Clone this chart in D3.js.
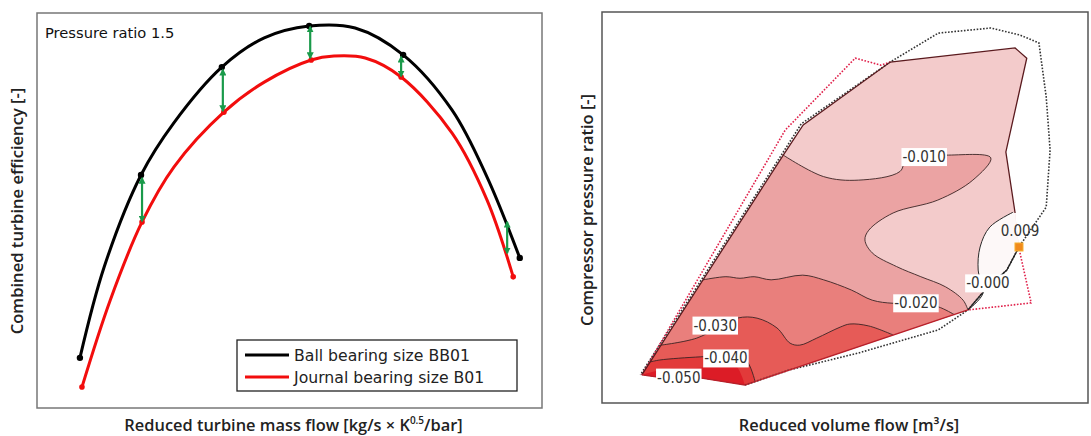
<!DOCTYPE html>
<html><head><meta charset="utf-8">
<script src="https://cdn.jsdelivr.net/npm/d3@7"></script>
<style>
html,body{margin:0;padding:0;background:#fff;}
svg{display:block;}
</style></head>
<body>
<svg id="chart" width="1091" height="436"></svg>
<script>
// ---------------- LEFT PANEL DATA ----------------
const ballFlow = [8.5, 13.3, 20.6, 27.1, 36.6, 45.0, 53.9, 63.0, 72.5, 82.2, 89.1, 95.6];
const ballEff  = [12.7, 35.7, 59.0, 72.2, 86.3, 93.7, 96.7, 96.2, 89.4, 75.4, 58.5, 38.0];
const journalFlow = [8.9, 14.5, 20.8, 27.1, 37.0, 45.0, 54.3, 58.8, 65.0, 72.1, 82.2, 89.1, 94.3];
const journalEff  = [5.3, 27.3, 47.1, 61.0, 74.9, 82.5, 88.1, 89.1, 88.6, 83.8, 69.6, 52.7, 33.2];
const ballMarkFlow = [8.5, 20.6, 36.6, 53.9, 72.5, 95.6];
const ballMarkEff  = [12.7, 59.0, 86.3, 96.7, 89.4, 38.0];
const journalMarkFlow = [8.9, 20.8, 37.0, 54.3, 72.1, 94.3];
const journalMarkEff  = [5.3, 47.1, 74.9, 88.1, 83.8, 33.2];
const arrowFlow = [20.8, 36.8, 54.1, 72.1, 93.1];
const arrowTop = [58.7, 86.1, 97.0, 89.4, 47.6];
const arrowBottom = [46.8, 74.7, 88.1, 83.5, 38.7];
const legendLabels = ["Ball bearing size BB01", "Journal bearing size B01"];

// ---------------- RIGHT PANEL DATA ----------------
const mapBoundary = [[8.2,7.2],[37.3,63.4],[41.4,71.1],[59.3,87.2],[85.0,90.8],[87.4,88.2],[83.1,64.2],[85.0,48.6],[85.8,39.9],[83.3,34.0],[78.8,28.9],[75.3,23.8],[29.4,4.6],[20.2,6.4],[11.5,6.6]];
const bottomEdge = [[29.4,4.6],[20.2,6.4],[11.5,6.6],[8.2,7.2]];
const positiveZero = [[84.6,48.8],[79.8,45.0],[77.8,39.9],[77.4,34.0],[78.4,28.1],[75.3,23.8]];
const positiveEdge = [[78.8,28.9],[83.3,34.0],[85.8,39.9],[85.0,48.6]];
const contour010 = [[37.3,63.4],[45.6,57.9],[52.8,57.0],[61.3,59.2],[62.8,63.0],[70.7,63.4],[80.0,62.7],[76.3,57.0],[69.1,51.9],[59.9,48.6],[54.9,44.2],[54.1,41.7],[55.6,38.4],[60.6,34.9],[65.6,32.3],[70.7,29.7],[74.3,26.3],[75.3,23.8]];
const contour020 = [[20.8,31.5],[25.5,32.3],[28.4,31.9],[31.3,32.3],[34.8,31.5],[41.3,32.7],[45.6,31.5],[51.3,28.9],[55.6,26.3],[59.9,25.5],[64.6,25.6],[69.2,24.6],[72.5,22.6]];
const contour030 = [[12.1,14.8],[19.5,16.6],[27.8,21.7],[31.9,21.7],[36.0,19.2],[38.7,15.3],[40.7,14.8],[44.2,16.6],[49.0,19.4],[51.0,20.2],[54.9,19.7],[59.9,17.4]];
const contour040 = [[9.9,10.5],[11.9,11.0],[20.2,11.8],[25.9,12.0],[29.5,11.2],[31.5,5.5]];
const contour050 = [[8.2,7.2],[13.0,8.6],[20.2,9.0],[27.0,10.2],[29.4,4.6]];
const journalEnvelope = [[8.2,7.2],[37.7,69.8],[52.1,88.2],[57.4,86.4],[59.3,87.2]];
const journalEnvelopeRight = [[86.0,38.4],[88.3,25.6],[75.3,23.8]];
const ballEnvelope = [[29.4,4.6],[38.4,8.4],[52.8,12.8],[69.2,18.7],[75.3,23.8],[78.8,28.9],[83.3,34.0],[85.8,39.9],[86.4,41.0],[91.4,50.1],[92.2,64.7],[91.4,78.3],[89.9,92.1],[86.0,94.1],[80.0,95.9],[69.2,94.6],[59.3,87.2],[41.0,71.4],[36.9,63.4],[7.9,7.2]];
const levelLabels = ["-0.010","-0.020","-0.030","-0.040","-0.050","-0.000","0.009"];
const labelPos = [[66.3,63.0],[64.6,25.6],[23.3,19.9],[25.5,11.5],[15.8,6.6],[79.4,30.7],[86.0,44.0]];
const optimum = [85.8, 39.9];
const levelColors = ["#f3cbcb","#eba3a3","#e97f7c","#e65b57","#e23a3a","#dc1c26"];

const svg = d3.select("#chart");
const titleFont = "'Open Sans', 'DejaVu Sans', sans-serif";
const bodyFont = "'DejaVu Sans', sans-serif";

// ================= LEFT PANEL =================
const L = {x0:37, x1:542, y0:13, y1:408};
const xL = d3.scaleLinear().domain([0,100]).range([L.x0, L.x1]);
const yL = d3.scaleLinear().domain([0,100]).range([L.y1, L.y0]);
const gL = svg.append("g");
gL.append("rect").attr("x",L.x0).attr("y",L.y0).attr("width",L.x1-L.x0).attr("height",L.y1-L.y0)
  .attr("fill","#fff").attr("stroke","#777").attr("stroke-width",1.5);

const lineGen = d3.line().x(d=>xL(d[0])).y(d=>yL(d[1])).curve(d3.curveCatmullRom.alpha(0.5));
const ballPts = ballFlow.map((v,i)=>[v, ballEff[i]]);
const journalPts = journalFlow.map((v,i)=>[v, journalEff[i]]);
gL.append("path").attr("d", lineGen(journalPts)).attr("fill","none").attr("stroke","#f20d0d").attr("stroke-width",3);
gL.append("path").attr("d", lineGen(ballPts)).attr("fill","none").attr("stroke","#000").attr("stroke-width",3);
gL.selectAll(".bdot").data(ballMarkFlow).join("circle").attr("cx",d=>xL(d)).attr("cy",(d,i)=>yL(ballMarkEff[i])).attr("r",3.2).attr("fill","#000");
gL.selectAll(".jdot").data(journalMarkFlow).join("circle").attr("cx",d=>xL(d)).attr("cy",(d,i)=>yL(journalMarkEff[i])).attr("r",2.8).attr("fill","#f20d0d");

const defs = svg.append("defs");
defs.append("marker").attr("id","ah").attr("viewBox","0 0 10 10").attr("refX",8).attr("refY",5)
  .attr("markerWidth",3.2).attr("markerHeight",3.2).attr("orient","auto-start-reverse")
  .append("path").attr("d","M0,0 L10,5 L0,10 z").attr("fill","#1a9a4a");
gL.selectAll(".arr").data(arrowFlow).join("line")
  .attr("x1",d=>xL(d)).attr("x2",d=>xL(d))
  .attr("y1",(d,i)=>yL(arrowTop[i])+2).attr("y2",(d,i)=>yL(arrowBottom[i])-2)
  .attr("stroke","#1a9a4a").attr("stroke-width",2.2)
  .attr("marker-start","url(#ah)").attr("marker-end","url(#ah)");

gL.append("text").attr("x",45).attr("y",38).text("Pressure ratio 1.5")
  .attr("font-family",bodyFont).attr("font-size",14.7).attr("fill","#111");

// legend
const lg = gL.append("g");
lg.append("rect").attr("x",237).attr("y",340).attr("width",280).attr("height",51)
  .attr("fill","#fff").attr("stroke","#222").attr("stroke-width",1.3);
const legColors = ["#000","#f20d0d"];
legendLabels.forEach((t,i)=>{
  const yy = 355 + i*22;
  lg.append("line").attr("x1",245).attr("x2",289).attr("y1",yy).attr("y2",yy).attr("stroke",legColors[i]).attr("stroke-width",3);
  lg.append("text").attr("x",294).attr("y",yy).attr("dy","0.36em").text(t)
    .attr("font-family",bodyFont).attr("font-size",15.7).attr("fill","#222");
});

// axis titles
const xt = svg.append("text").attr("x",(L.x0+L.x1)/2 + 4).attr("y",431).attr("text-anchor","middle")
  .attr("font-family",titleFont).attr("font-size",16.4).attr("font-weight",600).attr("fill","#222");
xt.append("tspan").text("Reduced turbine mass flow [kg/s × K");
xt.append("tspan").text("0.5").attr("font-size",10).attr("dy",-7);
xt.append("tspan").text("/bar]").attr("dy",7);
svg.append("text").attr("transform","translate(19,211) rotate(-90)").attr("text-anchor","middle")
  .attr("dominant-baseline","middle").text("Combined turbine efficiency [-]")
  .attr("font-family",titleFont).attr("font-size",16.6).attr("font-weight",600).attr("fill","#222");

// ================= RIGHT PANEL =================
const R = {x0:602, x1:1088, y0:12, y1:403};
const xR = d3.scaleLinear().domain([0,100]).range([R.x0, R.x1]);
const yR = d3.scaleLinear().domain([0,100]).range([R.y1, R.y0]);
const gR = svg.append("g");
gR.append("rect").attr("x",R.x0).attr("y",R.y0).attr("width",R.x1-R.x0).attr("height",R.y1-R.y0)
  .attr("fill","#fff").attr("stroke","#555").attr("stroke-width",1.5);

const lin = d3.line().x(d=>xR(d[0])).y(d=>yR(d[1]));
const smooth = d3.line().x(d=>xR(d[0])).y(d=>yR(d[1])).curve(d3.curveCatmullRom.alpha(0.5));
function region(contour, edge){
  let s = smooth(contour);
  edge.forEach(p=>{ s += "L" + xR(p[0]) + "," + yR(p[1]); });
  return s + "Z";
}
gR.append("path").attr("d", lin(mapBoundary)+"Z").attr("fill",levelColors[0]);
gR.append("path").attr("d", region(positiveZero, positiveEdge)).attr("fill","#fdf8f8");
const fills = [[contour010,1],[contour020,2],[contour030,3],[contour040,4],[contour050,5]];
fills.forEach(([c,k])=>{
  gR.append("path").attr("d", region(c, bottomEdge)).attr("fill", levelColors[k]);
});
[contour010, contour020, contour030, contour040].forEach(c=>{
  gR.append("path").attr("d", smooth(c)).attr("fill","none").attr("stroke","#3a2424").attr("stroke-width",0.9);
});
gR.append("path").attr("d", smooth(positiveZero)).attr("fill","none").attr("stroke","#2a2a2a").attr("stroke-width",1);
gR.append("path").attr("d", lin(ballEnvelope)).attr("fill","none").attr("stroke","#333").attr("stroke-width",1.6).attr("stroke-dasharray","1.6,1.6");
gR.append("path").attr("d", lin(journalEnvelope)).attr("fill","none").attr("stroke","#e0204a").attr("stroke-width",1.6).attr("stroke-dasharray","1.6,1.6");
gR.append("path").attr("d", lin(journalEnvelopeRight)).attr("fill","none").attr("stroke","#e0204a").attr("stroke-width",1.6).attr("stroke-dasharray","1.6,1.6");
gR.append("path").attr("d", lin(mapBoundary.slice(0,8))).attr("fill","none").attr("stroke","#5a1a1e").attr("stroke-width",1.3);
gR.append("path").attr("d", lin(mapBoundary.slice(8,12))).attr("fill","none").attr("stroke","#222").attr("stroke-width",1.3);
gR.append("path").attr("d", lin(mapBoundary.slice(11).concat([mapBoundary[0]]))).attr("fill","none").attr("stroke","#b8202a").attr("stroke-width",1.3);

gR.append("rect").attr("x",xR(optimum[0])-4).attr("y",yR(optimum[1])-4).attr("width",8).attr("height",8)
  .attr("fill","#f08a1c").attr("stroke","#f6b030").attr("stroke-width",1);

levelLabels.forEach((t,i)=>{
  const cx = xR(labelPos[i][0]), cy = yR(labelPos[i][1]);
  const g = gR.append("g");
  const txt = g.append("text").attr("x",cx).attr("y",cy).attr("dy","0.36em").attr("text-anchor","middle")
    .text(t).attr("font-family","'DejaVu Sans Condensed', 'DejaVu Sans', sans-serif")
    .attr("font-size",15).attr("fill","#333").attr("font-stretch","condensed");
  const bb = txt.node().getBBox();
  if (t !== "0.009") {
    g.insert("rect","text").attr("x",bb.x-1).attr("y",bb.y).attr("width",bb.width+2).attr("height",bb.height)
      .attr("fill","#fff");
  }
});

svg.append("text").attr("x",849).attr("y",431).attr("text-anchor","middle").text("Reduced volume flow [m³/s]")
  .attr("font-family",titleFont).attr("font-size",16.4).attr("font-weight",600).attr("fill","#222");
svg.append("text").attr("transform","translate(589,210) rotate(-90)").attr("text-anchor","middle")
  .attr("dominant-baseline","middle").text("Compressor pressure ratio [-]")
  .attr("font-family",titleFont).attr("font-size",16.4).attr("font-weight",600).attr("fill","#222");
</script>
</body></html>
